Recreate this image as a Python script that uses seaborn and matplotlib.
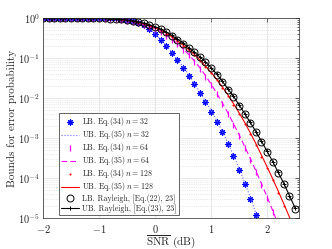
import numpy as np
import pandas as pd
import seaborn as sns
import matplotlib
matplotlib.use('Agg')
import matplotlib.pyplot as plt
from matplotlib.ticker import LogLocator, NullFormatter

# SNR grid (dB), 0.1 dB steps
snr = [-2.0, -1.9, -1.8, -1.7, -1.6, -1.5, -1.4, -1.3, -1.2, -1.1,
       -1.0, -0.9, -0.8, -0.7, -0.6, -0.5, -0.4, -0.3, -0.2, -0.1,
       0.0, 0.1, 0.2, 0.3, 0.4, 0.5, 0.6, 0.7, 0.8, 0.9,
       1.0, 1.1, 1.2, 1.3, 1.4, 1.5, 1.6, 1.7, 1.8, 1.9,
       2.0, 2.1, 2.2, 2.3, 2.4, 2.5]

# log10 of the error probability bounds
lb_32 = [-0.001, -0.001, -0.001, -0.001, -0.001, -0.001, -0.001, -0.001, -0.001, -0.001,
         -0.002, -0.003, -0.005, -0.010, -0.020, -0.038, -0.068, -0.115, -0.185, -0.28,
         -0.40, -0.54, -0.70, -0.87, -1.05, -1.24, -1.44, -1.65, -1.87, -2.10,
         -2.34, -2.59, -2.86, -3.15, -3.46, -3.79, -4.14, -4.52, -4.92]
ub_32 = [-0.001, -0.001, -0.001, -0.001, -0.001, -0.001, -0.001, -0.001, -0.001, -0.001,
         -0.002, -0.003, -0.005, -0.009, -0.019, -0.036, -0.065, -0.11, -0.18, -0.27,
         -0.39, -0.53, -0.69, -0.86, -1.04, -1.22, -1.42, -1.63, -1.85, -2.08,
         -2.31, -2.56, -2.83, -3.12, -3.43, -3.76, -4.11, -4.48, -4.88, -5.3]
lb_64 = [-0.001, -0.001, -0.001, -0.001, -0.001, -0.001, -0.002, -0.003, -0.004, -0.007,
         -0.010, -0.016, -0.024, -0.035, -0.050, -0.071, -0.097, -0.13, -0.17, -0.22,
         -0.28, -0.35, -0.44, -0.54, -0.66, -0.79, -0.93, -1.09, -1.27, -1.47,
         -1.68, -1.91, -2.15, -2.41, -2.68, -2.96, -3.25, -3.55, -3.86, -4.18,
         -4.51, -4.85, -5.2]
ub_64 = [-0.001, -0.001, -0.001, -0.001, -0.001, -0.001, -0.002, -0.003, -0.004, -0.006,
         -0.009, -0.015, -0.023, -0.034, -0.048, -0.068, -0.094, -0.125, -0.165, -0.215,
         -0.27, -0.34, -0.43, -0.53, -0.64, -0.77, -0.91, -1.07, -1.24, -1.44,
         -1.65, -1.88, -2.12, -2.37, -2.64, -2.92, -3.21, -3.51, -3.82, -4.14,
         -4.47, -4.81, -5.16]
lb_128 = [-0.001, -0.001, -0.001, -0.001, -0.001, -0.001, -0.001, -0.002, -0.003, -0.005,
          -0.008, -0.012, -0.019, -0.029, -0.043, -0.062, -0.086, -0.117, -0.155, -0.20,
          -0.25, -0.31, -0.39, -0.48, -0.58, -0.69, -0.81, -0.93, -1.07, -1.22,
          -1.38, -1.56, -1.75, -1.95, -2.17, -2.40, -2.65, -2.91, -3.18, -3.47,
          -3.76, -4.06, -4.37, -4.69, -5.02]
ub_128 = [-0.001, -0.001, -0.001, -0.001, -0.001, -0.001, -0.001, -0.002, -0.003, -0.005,
          -0.007, -0.011, -0.018, -0.028, -0.041, -0.060, -0.083, -0.113, -0.150, -0.195,
          -0.245, -0.30, -0.38, -0.47, -0.57, -0.68, -0.79, -0.91, -1.05, -1.20,
          -1.36, -1.53, -1.72, -1.92, -2.14, -2.37, -2.61, -2.87, -3.14, -3.43,
          -3.72, -4.02, -4.33, -4.65, -4.98, -5.3]
lb_ray = [-0.001, -0.001, -0.001, -0.001, -0.001, -0.001, -0.001, -0.002, -0.003, -0.005,
          -0.007, -0.011, -0.017, -0.025, -0.036, -0.051, -0.071, -0.097, -0.13, -0.17,
          -0.22, -0.28, -0.36, -0.44, -0.54, -0.64, -0.75, -0.86, -0.98, -1.11,
          -1.26, -1.42, -1.60, -1.79, -1.98, -2.19, -2.41, -2.63, -2.86, -3.10,
          -3.35, -3.61, -3.88, -4.16, -4.46, -4.77]
ub_ray = [-0.001, -0.001, -0.001, -0.001, -0.001, -0.001, -0.001, -0.002, -0.003, -0.004,
          -0.006, -0.010, -0.016, -0.024, -0.035, -0.050, -0.069, -0.095, -0.127, -0.166,
          -0.215, -0.275, -0.35, -0.435, -0.53, -0.63, -0.74, -0.85, -0.97, -1.10,
          -1.24, -1.40, -1.58, -1.77, -1.96, -2.17, -2.39, -2.61, -2.84, -3.08,
          -3.33, -3.59, -3.86, -4.14, -4.44, -4.75]

labels = [r'LB. Eq.(34) $n = 32$', r'UB. Eq.(35) $n = 32$',
          r'LB. Eq.(34) $n = 64$', r'UB. Eq.(35) $n = 64$',
          r'LB. Eq.(34) $n = 128$', r'UB. Eq.(35) $n = 128$',
          'LB. Rayleigh, [Eq.(22), 23]',
          'UB. Rayleigh, [Eq.(23), 23]']

sns.set_style('white')
plt.rcParams['font.family'] = ['cmr10']
plt.rcParams['mathtext.fontset'] = 'cm'
plt.rcParams['axes.formatter.use_mathtext'] = True
plt.rcParams['axes.unicode_minus'] = False

fig = plt.figure(figsize=(3.32, 2.49), dpi=100)
ax = fig.add_axes([0.1295, 0.1245, 0.7711, 0.8032])


def p(vals):
    return 10 ** np.array(vals)


def xs(vals):
    return snr[:len(vals)]


lw = 0.8
sns.lineplot(x=xs(lb_32), y=p(lb_32), ax=ax, color='#0000ff', linestyle='none',
             marker=(8, 2, 0), markersize=4.5, markeredgewidth=0.8,
             markeredgecolor='#0000ff', label=labels[0])
sns.lineplot(x=xs(ub_32), y=p(ub_32), ax=ax, color='#6a6aff', linestyle=':', lw=lw,
             label=labels[1])
sns.lineplot(x=xs(lb_64), y=p(lb_64), ax=ax, color='#ff00ff', linestyle='none',
             marker='|', markersize=5, markeredgewidth=0.9,
             markeredgecolor='#ff00ff', label=labels[2])
sns.lineplot(x=xs(ub_64), y=p(ub_64), ax=ax, color='#ff00ff', linestyle=(0, (5, 3)), lw=lw,
             label=labels[3])
sns.lineplot(x=xs(lb_128), y=p(lb_128), ax=ax, color='#ff0000', linestyle='none',
             marker='.', markersize=3, markeredgewidth=0,
             label=labels[4])
sns.lineplot(x=xs(ub_128), y=p(ub_128), ax=ax, color='#ff0000', linestyle='-', lw=lw,
             label=labels[5])
sns.lineplot(x=xs(lb_ray), y=p(lb_ray), ax=ax, color='black', linestyle='none',
             marker='o', markersize=5, markerfacecolor='none', markeredgewidth=0.7,
             markeredgecolor='black', label=labels[6])
sns.lineplot(x=xs(ub_ray), y=p(ub_ray), ax=ax, color='black', linestyle='-', lw=lw,
             marker='+', markersize=3.5, markeredgewidth=0.7,
             markeredgecolor='black', label=labels[7])

ax.set_yscale('log')
ax.set_xlim(-2, 2.57)
ax.set_ylim(1e-5, 1)
ax.set_xticks([-2, -1, 0, 1, 2])
ax.yaxis.set_major_locator(LogLocator(base=10, numticks=10))
ax.yaxis.set_minor_locator(LogLocator(base=10, subs=np.arange(2, 10), numticks=20))
ax.yaxis.set_minor_formatter(NullFormatter())

ax.grid(True, which='major', color='#dedede', linestyle='-', linewidth=0.5)
ax.grid(True, which='minor', axis='y', color='#d6d6d6', linestyle=':', linewidth=0.5)
ax.set_axisbelow(True)
for s in ax.spines.values():
    s.set_color('#262626')
    s.set_linewidth(0.5)
ax.tick_params(which='both', direction='in', top=True, right=True,
               labelsize=7.5, width=0.5, color='#262626', pad=2)
ax.tick_params(axis='x', pad=3.5)
ax.tick_params(which='major', length=3)
ax.tick_params(which='minor', length=1.5)

ax.set_xlabel(r'$\overline{\mathrm{SNR}}$ (dB)', fontsize=8, labelpad=-1)
ax.set_ylabel('Bounds for error probability', fontsize=8, labelpad=1)

leg = ax.legend(loc='upper left', bbox_to_anchor=(0.0625, 0.525), borderaxespad=0,
                fontsize=5.7, frameon=True, fancybox=False, framealpha=1,
                edgecolor='#262626', handlelength=2.2, handletextpad=0.4,
                handleheight=0.5, labelspacing=0.0, borderpad=0.3)
leg.get_frame().set_linewidth(0.5)

fig.savefig('out.png', dpi=100)
